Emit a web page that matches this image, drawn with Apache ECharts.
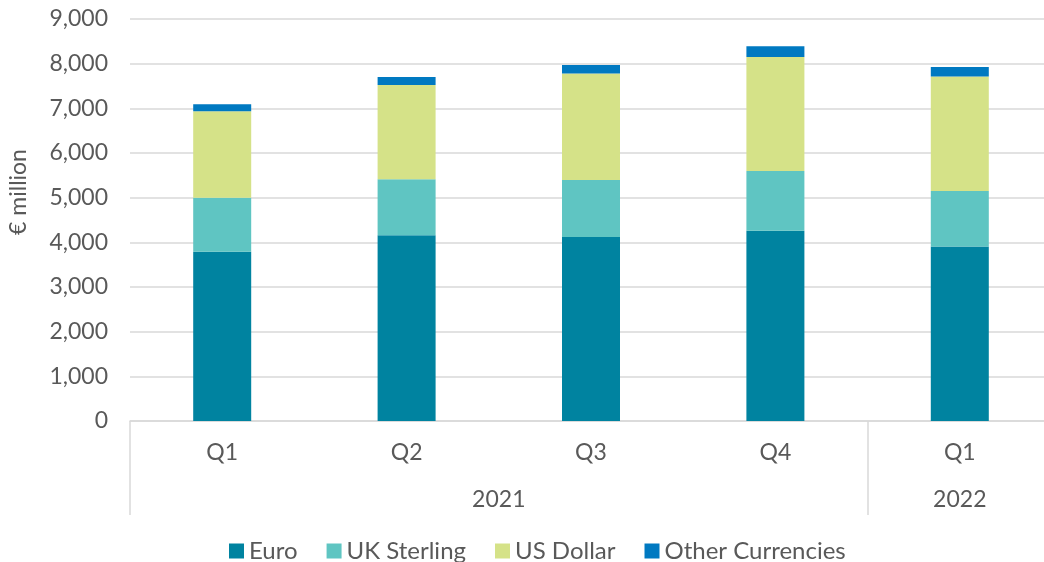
<!DOCTYPE html>
<html>
<head>
<meta charset="utf-8">
<script src="https://cdn.jsdelivr.net/npm/echarts@6/dist/echarts.min.js"></script>
<style>
  html, body { margin: 0; padding: 0; background: #fff; }
  #chart { width: 1044px; height: 562px; }
</style>
</head>
<body>
<div id="chart"></div>
<script>
// 季度 + 年份两级分类
const quarters = ["Q1", "Q2", "Q3", "Q4", "Q1"];
const yearLabels = ["", "", "", "", "2021", "", "", "", "", "2022", ""];
const yearBreaks = [0, 8, 10]; // 年份分隔线所在刻度

const euro = [3790, 4160, 4120, 4260, 3905];
const ukSterling = [1210, 1255, 1275, 1335, 1245];
const usDollar = [1935, 2110, 2385, 2555, 2565];
const otherCurrencies = [155, 175, 190, 240, 210];

const yTicks = { min: 0, max: 9000, interval: 1000 };

const textColor = "#595959";
const lineColor = "#d9d9d9";
const fontFamily = "Lato";
const fontSize = 23;

const chart = echarts.init(document.getElementById("chart"));

const makeSeries = (name, data, color) => ({
  name,
  type: "bar",
  stack: "total",
  barWidth: 58,
  itemStyle: { color },
  data,
});

const options = {
  textStyle: { fontFamily },
  grid: {
    left: 130,
    top: 19,
    width: 922,
    height: 402,
    outerBoundsMode: "none",
  },
  legend: {
    bottom: -6,
    left: 224,
    icon: "rect",
    itemWidth: 15,
    itemHeight: 15,
    itemGap: 29,
    textStyle: { color: textColor, fontSize: 24, fontFamily },
    data: ["Euro", "UK Sterling", "US Dollar", "Other Currencies"],
  },
  xAxis: [
    {
      type: "category",
      data: quarters,
      axisLine: { lineStyle: { color: lineColor, width: 1.5 } },
      axisTick: { show: false },
      axisLabel: { color: textColor, fontSize, margin: 20 },
    },
    {
      type: "category",
      data: yearLabels,
      position: "bottom",
      boundaryGap: false,
      axisLine: { show: false },
      axisTick: {
        show: true,
        length: 94,
        lineStyle: { color: lineColor, width: 1.5 },
        interval: (index) => yearBreaks.includes(index),
      },
      axisLabel: {
        color: textColor,
        fontSize,
        margin: 67,
        interval: 0,
      },
    },
  ],
  yAxis: {
    type: "value",
    min: yTicks.min,
    max: yTicks.max,
    interval: yTicks.interval,
    name: "€ million",
    nameLocation: "middle",
    nameGap: 100,
    nameTextStyle: { color: textColor, fontSize, padding: [0, 0, 0, 56] },
    axisLine: { show: false },
    axisTick: { show: false },
    axisLabel: {
      color: textColor,
      fontSize,
      margin: 22,
      formatter: (v) => v.toLocaleString("en-US"),
    },
    splitLine: { lineStyle: { color: lineColor, width: 1.5 } },
  },
  series: [
    makeSeries("Euro", euro, "#0083a0"),
    makeSeries("UK Sterling", ukSterling, "#5fc5c2"),
    makeSeries("US Dollar", usDollar, "#d5e288"),
    makeSeries("Other Currencies", otherCurrencies, "#0079c1"),
  ],
};

chart.setOption(options);
window.addEventListener("resize", () => {
  chart.resize();
});
</script>
</body>
</html>
